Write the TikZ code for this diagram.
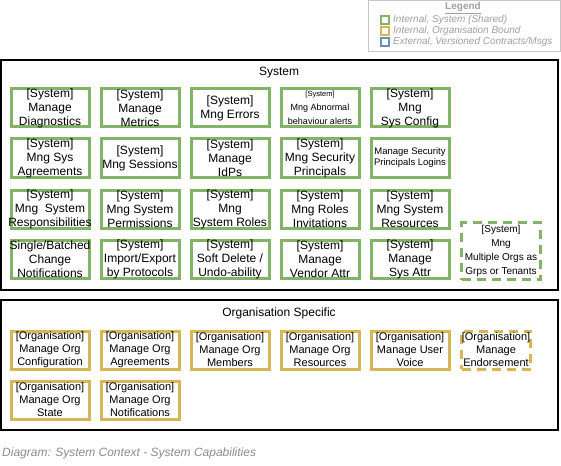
\documentclass[tikz,border=0pt]{standalone}
\usepackage{fontspec}
\setmainfont{Liberation Sans}
\definecolor{sysgreen}{HTML}{82B366}
\definecolor{orgyellow}{HTML}{D6B656}
\definecolor{extblue}{HTML}{6C8EBF}
\definecolor{legendgray}{HTML}{A0A0A0}
\definecolor{footgray}{HTML}{8C8C8C}
\begin{document}
\begin{tikzpicture}[x=1pt,y=-1pt,
  boxtext/.style={align=center,inner sep=0pt,font=\fontsize{12}{14}\selectfont},
  orgtext/.style={boxtext,font=\fontsize{11}{13}\selectfont},
  sysbox/.style={draw=sysgreen,line width=3pt,fill=white,minimum width=78pt,minimum height=38pt,inner sep=0pt,label={[boxtext]center:{#1}}},
  orgbox/.style={draw=orgyellow,line width=3pt,fill=white,minimum width=78pt,minimum height=38pt,inner sep=0pt,label={[orgtext]center:{#1}}},
  planned/.style={dash pattern=on 9pt off 6pt},
  group/.style={draw,line width=1.2pt},
  legendtext/.style={anchor=west,inner sep=0pt,text=legendgray,font=\fontsize{10}{12}\selectfont\itshape}
]

% Fond et cadre de l'image
\fill[white] (0,0) rectangle (561,465);
\useasboundingbox (0,0) rectangle (561,465);

% Legende
\draw[legendgray!60,line width=1pt] (368,1) rectangle (560,52);
\node[inner sep=0pt,text=legendgray,font=\fontsize{10}{12}\selectfont\bfseries] (legtitle) at (463,8) {\underline{Legend}};
\draw[sysgreen,line width=1.5pt] (381,16) rectangle (389,24);
\draw[orgyellow,line width=1.5pt] (381,27) rectangle (389,35);
\draw[extblue,line width=1.5pt] (381,38) rectangle (389,46);
\node[legendtext] (legsys) at (393,20) {Internal, System (Shared)};
\node[legendtext] (legorg) at (393,31) {Internal, Organisation Bound};
\node[legendtext] (legext) at (393,42) {External, Versioned Contracts/Msgs};

% Conteneur System
\draw[group] (1,60) rectangle (558,290);
\node[font=\fontsize{12}{14}\selectfont] (systitle) at (279,73) {System};

% Ligne 1
\node[sysbox={[System]\\Manage\\Diagnostics}] (diag) at (50,108) {};
\node[sysbox={[System]\\Manage\\Metrics}] (metrics) at (140,108) {};
\node[sysbox={[System]\\Mng Errors}] (errors) at (230,108) {};
\node[sysbox={},label={[boxtext,font=\fontsize{9}{14}\selectfont]center:{{\fontsize{7.5}{9}\selectfont[System]}\\Mng Abnormal\\behaviour alerts}}] (abnormal) at (320,108) {};
\node[sysbox={[System]\\Mng\\Sys Config}] (sysconfig) at (410,108) {};

% Ligne 2
\node[sysbox={[System]\\Mng Sys\\Agreements}] (sysagree) at (50,158) {};
\node[sysbox={[System]\\Mng Sessions}] (sessions) at (140,158) {};
\node[sysbox={[System]\\Manage\\IdPs}] (idps) at (230,158) {};
\node[sysbox={[System]\\Mng Security\\Principals}] (secprinc) at (320,158) {};
\node[sysbox={},label={[boxtext,font=\fontsize{9.5}{11}\selectfont]center:{Manage Security\\Principals Logins}}] (seclogins) at (410,158) {};

% Ligne 3
\node[sysbox={[System]\\Mng~ System\\Responsibilities}] (sysresp) at (50,209) {};
\node[sysbox={[System]\\Mng System\\Permissions}] (sysperm) at (140,209) {};
\node[sysbox={[System]\\Mng\\System Roles}] (sysroles) at (230,209) {};
\node[sysbox={[System]\\Mng Roles\\Invitations}] (rolesinv) at (320,209) {};
\node[sysbox={[System]\\Mng System\\Resources}] (sysres) at (410,209) {};

% Ligne 4
\node[sysbox={Single/Batched\\Change\\Notifications}] (changenotif) at (50,259) {};
\node[sysbox={[System]\\Import/Export\\by Protocols}] (importexport) at (140,259) {};
\node[sysbox={[System]\\Soft Delete /\\Undo-ability}] (softdelete) at (230,259) {};
\node[sysbox={[System]\\Manage\\Vendor Attr}] (vendorattr) at (320,259) {};
\node[sysbox={[System]\\Manage\\Sys Attr}] (sysattr) at (410,259) {};

% Capacite prevue (pointilles)
\node[sysbox={},planned,minimum width=79pt,minimum height=57pt,label={[boxtext,font=\fontsize{10}{14}\selectfont]center:{[System]\\Mng\\Multiple Orgs as\\Grps or Tenants}}] (multiorg) at (501,251) {};

% Conteneur Organisation
\draw[group] (1,300) rectangle (558,430);
\node[font=\fontsize{12}{14}\selectfont] (orgtitle) at (279,313) {Organisation Specific};

% Ligne 1
\node[orgbox={[Organisation]\\Manage Org\\Configuration}] (orgconfig) at (50,350) {};
\node[orgbox={[Organisation]\\Manage Org\\Agreements}] (orgagree) at (140,350) {};
\node[orgbox={[Organisation]\\Manage Org\\Members}] (orgmembers) at (230,350) {};
\node[orgbox={[Organisation]\\Manage Org\\Resources}] (orgres) at (320,350) {};
\node[orgbox={[Organisation]\\Manage User\\Voice}] (uservoice) at (410,350) {};
\node[orgbox={[Organisation]\\Manage\\Endorsement},planned,minimum width=69pt] (endorse) at (496,350) {};

% Ligne 2
\node[orgbox={[Organisation]\\Manage Org\\State}] (orgstate) at (50,400) {};
\node[orgbox={[Organisation]\\Manage Org\\Notifications}] (orgnotif) at (140,400) {};

% Titre du diagramme
\node[anchor=west,inner sep=0pt,text=footgray,font=\fontsize{12}{14}\selectfont\itshape] (caption) at (2,453) {Diagram: System Context - System Capabilities};

\end{tikzpicture}
\end{document}
